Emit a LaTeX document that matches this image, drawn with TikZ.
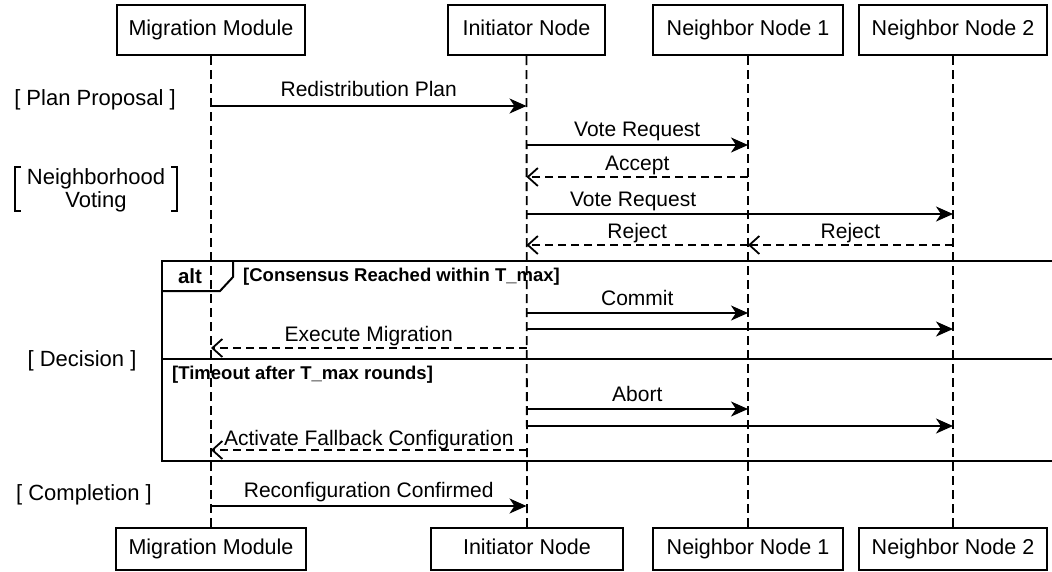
\documentclass[tikz,border=0pt]{standalone}
\usepackage{fontspec}
\setmainfont{Liberation Sans}
\usetikzlibrary{arrows.meta}
\begin{document}
\begin{tikzpicture}[x=1pt,y=-1pt,
  actor/.style={draw,line width=2pt,minimum height=50pt,inner sep=0pt,text height=15pt,text depth=4pt,font=\fontsize{21.5}{24}\selectfont},
  life/.style={line width=1.8pt,dash pattern=on 9pt off 5pt},
  msg/.style={line width=2pt,-{Stealth[length=17pt,width=15pt,inset=5pt]}},
  ret/.style={line width=1.8pt,dash pattern=on 8pt off 5pt,-{Straight Barb[length=10pt,width=18pt,line width=1.8pt]}},
  lbl/.style={font=\fontsize{21}{24}\selectfont,inner sep=0pt,text height=15pt,text depth=4pt},
  guard/.style={font=\bfseries\fontsize{18.5}{22}\selectfont,inner sep=0pt,anchor=west},
  phase/.style={font=\fontsize{22}{25}\selectfont,inner sep=0pt},
  frame/.style={line width=2pt}]
\path[use as bounding box] (0,0) rectangle (1052,571);
% actors top
\node[actor,minimum width=188pt] (mmT) at (211,30) {Migration Module};
\node[actor,minimum width=157pt] (inT) at (526.5,30) {Initiator Node};
\node[actor,minimum width=190pt] (n1T) at (748,30) {Neighbor Node 1};
\node[actor,minimum width=188pt] (n2T) at (953,30) {Neighbor Node 2};
% actors bottom
\node[actor,minimum width=190pt,minimum height=42pt] (mmB) at (211,549) {Migration Module};
\node[actor,minimum width=192pt,minimum height=42pt] (inB) at (527,549) {Initiator Node};
\node[actor,minimum width=190pt,minimum height=42pt] (n1B) at (748,549) {Neighbor Node 1};
\node[actor,minimum width=188pt,minimum height=42pt] (n2B) at (953,549) {Neighbor Node 2};
% lifelines
\draw[life] (mmT.south) -- (mmB.north);
\draw[life] (inT.south) -- (inB.north);
\draw[life] (n1T.south) -- (n1B.north);
\draw[life] (n2T.south) -- (n2B.north);
% phase labels
\node[phase] (p1) at (95,100) {[ Plan Proposal ]};
\node[phase,align=center] (p2) at (96,190) {Neighborhood\\[-2pt]Voting};
\draw[line width=1.4pt] (21,167) -- (15,167) -- (15,211) -- (21,211);
\draw[line width=1.4pt] (171,167) -- (177,167) -- (177,211) -- (171,211);
\node[phase] (p3) at (82,361) {[ Decision ]};
\node[phase] (p4) at (84,495) {[ Completion ]};
% messages
\draw[msg] (mmT.south |- 0,106) -- node[lbl,above=5pt] {Redistribution Plan} (inT.south |- 0,106);
\draw[msg] (inT.south |- 0,145) -- node[lbl,above=4pt] {Vote Request} (n1T.south |- 0,145);
\draw[ret] (n1T.south |- 0,177) -- node[lbl,above=2pt] {Accept} (inT.south |- 0,177);
\draw[msg] (inT.south |- 0,214) -- node[lbl,above=3pt,pos=0.25] {Vote Request} (n2T.south |- 0,214);
\draw[ret] (n1T.south |- 0,245) -- node[lbl,above=2pt] {Reject} (inT.south |- 0,245);
\draw[ret] (n2T.south |- 0,245) -- node[lbl,above=2pt] {Reject} (n1T.south |- 0,245);
% alt frame
\draw[frame] (162,261) rectangle (1060,461);
\draw[frame] (162,359) -- (1060,359);
\draw[frame] (162,291) -- (220,291) -- (233,277) -- (233,261);
\node[font=\bfseries\fontsize{20.5}{24}\selectfont,inner sep=0pt] (alt) at (190,276) {alt};
\node[guard] (g1) at (243,277) {[Consensus Reached within T\_max]};
\node[guard] (g2) at (172,375) {[Timeout after T\_max rounds]};
\draw[msg] (inT.south |- 0,313) -- node[lbl,above=3pt] {Commit} (n1T.south |- 0,313);
\draw[msg] (inT.south |- 0,329) -- (n2T.south |- 0,329);
\draw[ret] (inT.south |- 0,348) -- node[lbl,above=2pt] {Execute Migration} (mmT.south |- 0,348);
\draw[msg] (inT.south |- 0,409) -- node[lbl,above=3pt] {Abort} (n1T.south |- 0,409);
\draw[msg] (inT.south |- 0,426) -- (n2T.south |- 0,426);
\draw[ret] (inT.south |- 0,450) -- node[lbl,above=0pt] {Activate Fallback Configuration} (mmT.south |- 0,450);
\draw[msg] (mmT.south |- 0,506) -- node[lbl,above=4pt] {Reconfiguration Confirmed} (inT.south |- 0,506);
\end{tikzpicture}
\end{document}
